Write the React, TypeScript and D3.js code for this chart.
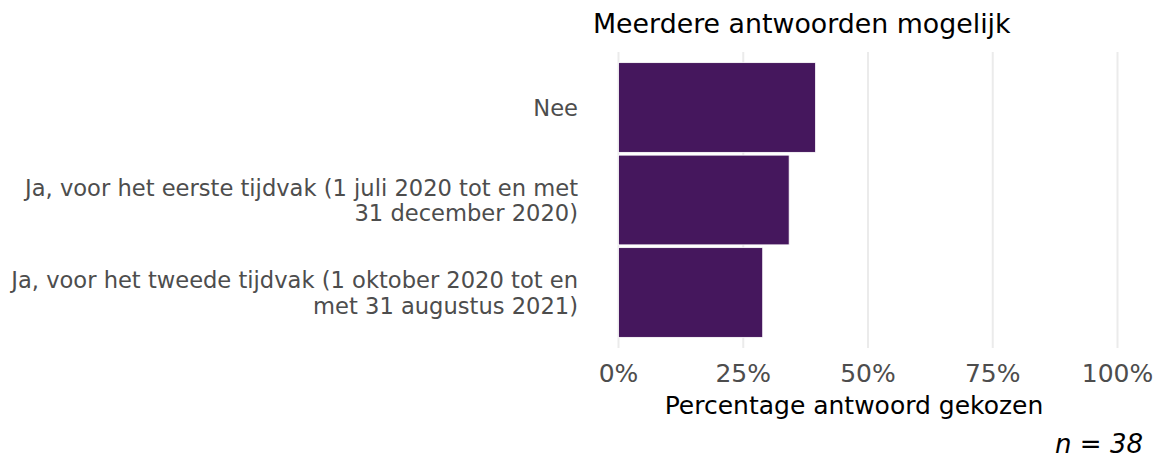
import React from "react";
import * as d3 from "d3";

const categories: string[][] = [
  ["Nee"],
  ["Ja, voor het eerste tijdvak (1 juli 2020 tot en met", "31 december 2020)"],
  ["Ja, voor het tweede tijdvak (1 oktober 2020 tot en", "met 31 augustus 2021)"],
];
const values: number[] = [39.5, 34.2, 28.9];
const ticks: number[] = [0, 25, 50, 75, 100];
const title = "Meerdere antwoorden mogelijk";
const xTitle = "Percentage antwoord gekozen";
const caption = "n = 38";

const W = 1168;
const H = 460;
const FONT = "DejaVu Sans, Verdana, sans-serif";

export default function App() {
  const x = d3.scaleLinear().domain([0, 100]).range([618.5, 1117.5]);
  const y = d3
    .scaleBand<number>()
    .domain(d3.range(categories.length))
    .range([52, 348])
    .paddingInner(0.03)
    .paddingOuter(0.115);
  const lineH = 25.5;
  return (
    <svg width={W} height={H} style={{ position: "absolute", left: 0, top: 0 }} fontFamily={FONT}>
      <rect width={W} height={H} fill="#ffffff" />
      {ticks.map((t) => (
        <line key={"g" + t} x1={x(t)} x2={x(t)} y1={52} y2={348} stroke="#ebebeb" strokeWidth={2} />
      ))}
      {values.map((v, i) => (
        <rect
          key={"b" + i}
          x={x(0)}
          y={y(i)!}
          width={x(v) - x(0)}
          height={y.bandwidth()}
          fill="#45175d"
          stroke="#ffffff"
          strokeWidth={0.8}
        />
      ))}
      {categories.map((lines, i) => {
        const cy = y(i)! + y.bandwidth() / 2;
        const start = cy - ((lines.length - 1) * lineH) / 2;
        return (
          <text key={"c" + i} textAnchor="end" fill="#4d4d4d" fontSize={22.6} dominantBaseline="central">
            {lines.map((l, j) => (
              <tspan key={j} x={578} y={start + j * lineH + 0.7}>
                {l}
              </tspan>
            ))}
          </text>
        );
      })}
      {ticks.map((t) => (
        <text key={"t" + t} x={x(t)} y={382} textAnchor="middle" fill="#4d4d4d" fontSize={25}>
          {t + "%"}
        </text>
      ))}
      <text x={854} y={414} textAnchor="middle" fill="#000" fontSize={25}>
        {xTitle}
      </text>
      <text x={593} y={32.5} fill="#000" fontSize={26.8}>
        {title}
      </text>
      <text x={1143} y={453} textAnchor="end" fill="#000" fontSize={26} fontStyle="italic">
        {caption}
      </text>
    </svg>
  );
}
